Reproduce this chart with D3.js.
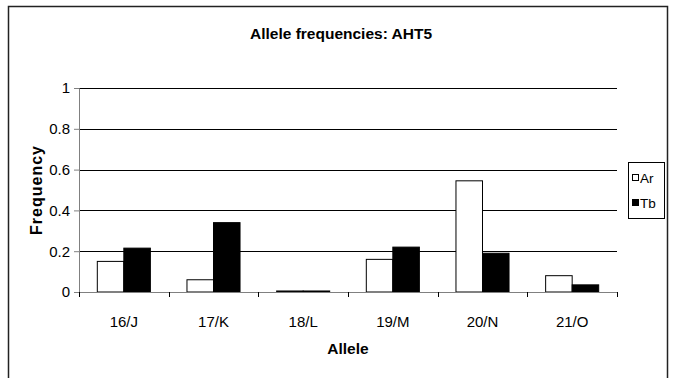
<!DOCTYPE html>
<html>
<head>
<meta charset="utf-8">
<script src="https://cdn.jsdelivr.net/npm/d3@7"></script>
<style>
  body { margin: 0; background: #fff; }
  text { font-family: "Liberation Sans", Arial, sans-serif; }
</style>
</head>
<body>
<div id="chart"></div>
<script>
const WIDTH = 674;
const HEIGHT = 378;

const categories = ["16/J", "17/K", "18/L", "19/M", "20/N", "21/O"];
const seriesNames = ["Ar", "Tb"];
const arValues = [0.15, 0.06, 0.005, 0.16, 0.545, 0.08];
const tbValues = [0.215, 0.34, 0.005, 0.22, 0.19, 0.035];
const yTicks = [0, 0.2, 0.4, 0.6, 0.8, 1];
const seriesFill = ["#ffffff", "#000000"];

const margin = {left: 79, right: 57, top: 88, bottom: 86};
const plotW = WIDTH - margin.left - margin.right;
const plotH = HEIGHT - margin.top - margin.bottom;

const svg = d3.select("#chart").append("svg")
    .attr("width", WIDTH)
    .attr("height", HEIGHT);

// outer frame (bottom edge is off screen)
svg.append("rect")
    .attr("x", 8.5).attr("y", 6.5)
    .attr("width", 659).attr("height", 400)
    .attr("fill", "none")
    .attr("stroke", "#222")
    .attr("stroke-width", 1.5);

svg.append("text")
    .attr("x", 341).attr("y", 39)
    .attr("text-anchor", "middle")
    .style("font-size", "15.5px")
    .style("font-weight", "bold")
    .text("Allele frequencies: AHT5");

const g = svg.append("g").attr("transform", `translate(${margin.left},${margin.top})`);

const x = d3.scaleBand().domain(categories).range([0, plotW]).paddingInner(0).paddingOuter(0);
const xInner = d3.scaleBand().domain(seriesNames).range([0, x.bandwidth()]).paddingInner(0).paddingOuter(0.69);
const y = d3.scaleLinear().domain([0, 1]).range([plotH, 0]);

// gridlines
g.selectAll("line.grid").data(yTicks.filter(d => d > 0))
  .enter().append("line")
    .attr("class", "grid")
    .attr("x1", 0).attr("x2", plotW)
    .attr("y1", d => Math.round(y(d)) + 0.5)
    .attr("y2", d => Math.round(y(d)) + 0.5)
    .attr("stroke", "#000")
    .attr("stroke-width", 1);

// y axis
const yAxis = g.append("g")
    .call(d3.axisLeft(y).tickValues(yTicks).tickSize(5).tickPadding(4).tickFormat(d3.format("")));
yAxis.select(".domain").attr("stroke", "#808080");
yAxis.selectAll(".tick line").attr("stroke", "#808080");
yAxis.selectAll("text").style("font-size", "15px").attr("fill", "#000")
    .style("font-family", "'Liberation Sans', Arial, sans-serif");

// bars
const data = categories.map((c, i) => ({cat: c, vals: [arValues[i], tbValues[i]]}));
const groups = g.selectAll("g.grp").data(data).enter().append("g")
    .attr("class", "grp")
    .attr("transform", d => `translate(${x(d.cat)},0)`);

groups.selectAll("rect").data(d => d.vals.map((v, j) => ({name: seriesNames[j], v: v, j: j})))
  .enter().append("rect")
    .attr("x", d => xInner(d.name))
    .attr("y", d => y(d.v))
    .attr("width", xInner.bandwidth())
    .attr("height", d => plotH - y(d.v))
    .attr("fill", d => seriesFill[d.j])
    .attr("stroke", "#000")
    .attr("stroke-width", 1);

// x axis
const xAxis = g.append("g")
    .attr("transform", `translate(0,${plotH})`)
    .call(d3.axisBottom(x).tickSize(0).tickPadding(24));
xAxis.select(".domain").attr("stroke", "#808080");
xAxis.selectAll("text").style("font-size", "15px").attr("fill", "#000")
    .style("font-family", "'Liberation Sans', Arial, sans-serif");

// category boundary ticks
const bounds = categories.map(c => x(c)).concat([plotW]);
g.selectAll("line.xtick").data(bounds).enter().append("line")
    .attr("x1", d => Math.round(d) + 0.5).attr("x2", d => Math.round(d) + 0.5)
    .attr("y1", plotH).attr("y2", plotH + 5)
    .attr("stroke", "#000");

// axis titles
svg.append("text")
    .attr("transform", `translate(42,${margin.top + plotH / 2}) rotate(-90)`)
    .attr("text-anchor", "middle")
    .style("font-size", "16px")
    .style("font-weight", "bold")
    .style("letter-spacing", "1px")
    .text("Frequency");

svg.append("text")
    .attr("x", margin.left + plotW / 2).attr("y", 354)
    .attr("text-anchor", "middle")
    .style("font-size", "15.5px")
    .style("font-weight", "bold")
    .text("Allele");

// legend
const legend = svg.append("g").attr("transform", "translate(628,162)");
legend.append("rect")
    .attr("x", 0.5).attr("y", 0.5)
    .attr("width", 36).attr("height", 56)
    .attr("fill", "#fff").attr("stroke", "#000");
const items = legend.selectAll("g.item").data(seriesNames).enter().append("g")
    .attr("transform", (d, i) => `translate(0,${16 + i * 25})`);
items.append("rect")
    .attr("x", 4.5).attr("y", -3.5)
    .attr("width", 6).attr("height", 6)
    .attr("fill", (d, i) => seriesFill[i])
    .attr("stroke", "#000");
items.append("text")
    .attr("x", 12).attr("y", 5)
    .style("font-size", "13.5px")
    .text(d => d);
</script>
</body>
</html>
